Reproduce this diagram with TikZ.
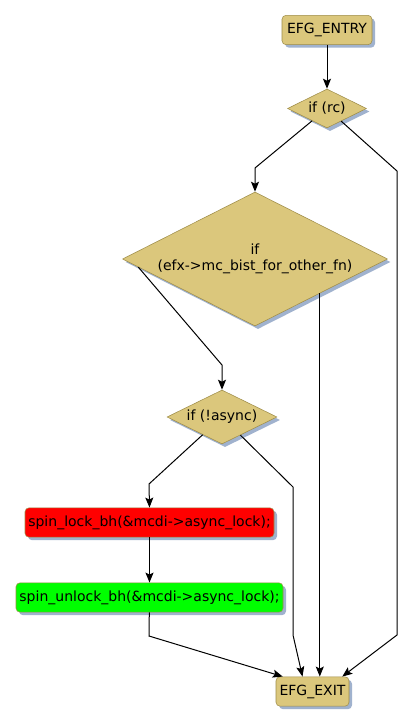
\documentclass[tikz,border=0pt]{standalone}
\usepackage{fontspec}
\setmainfont{DejaVu Sans}
\usetikzlibrary{shapes.geometric,shadows,arrows.meta,calc}
\definecolor{khaki}{RGB}{219,199,124}
\definecolor{khakiline}{RGB}{158,140,72}
\definecolor{shade}{RGB}{160,178,206}
\definecolor{lockred}{RGB}{255,0,0}
\definecolor{unlockgreen}{RGB}{0,255,0}

\begin{document}
\begin{tikzpicture}[x=0.75pt,y=-0.75pt,
  every node/.style={font=\fontsize{10.5}{12}\selectfont},
  box/.style={draw=khakiline,fill=khaki,rounded corners=3pt,minimum height=22pt,inner sep=0pt,
    drop shadow={shadow xshift=2.25pt,shadow yshift=-2.25pt,fill=shade,opacity=1}},
  test/.style={diamond,aspect=2,draw=khakiline,fill=khaki,inner sep=0pt,
    drop shadow={shadow xshift=2.25pt,shadow yshift=-2.25pt,fill=shade,opacity=1}},
  flow/.style={-{Stealth[length=7.5pt,width=6pt,inset=1.5pt]},line width=0.75pt}]

\fill[white] (0,0) rectangle (413,725);

\useasboundingbox (0,0) rectangle (413,725);

\node[box,minimum width=67.5pt] (entry) at (327,30) {EFG\_ENTRY};

\node[test,minimum width=59.25pt,minimum height=29.25pt] (rc) at (327,108.5) {if (rc)};

\node[test,minimum width=198.75pt,minimum height=100.5pt,align=center] (bist) at (255,259) {if\\(efx->mc\_bist\_for\_other\_fn)};

\node[test,minimum width=82.5pt,minimum height=40.5pt] (async) at (222,417) {if (!async)};

\node[box,fill=lockred,minimum width=186.75pt] (lock) at (149.5,522.5) {spin\_lock\_bh(\&mcdi->async\_lock);};

\node[box,fill=unlockgreen,minimum width=200.25pt] (unlock) at (149.5,597.5) {spin\_unlock\_bh(\&mcdi->async\_lock);};

\node[box,minimum width=54.75pt] (exit) at (312.5,691.5) {EFG\_EXIT};

\coordinate (rcl) at (255,168);

\coordinate (rcr) at (397,171);

\coordinate (rcd) at (397,635);

\coordinate (bl) at (222,365);

\coordinate (br) at (bist.332);

\coordinate (al) at (149,484);

\coordinate (ar) at (293,487);

\coordinate (ad) at (293,635);

\coordinate (ud) at (149,636);

\draw[flow] (entry) -- (rc);

\draw[flow] (rc) -- (rcl) -- (bist.north);

\draw[flow] (rc) -- (rcr) -- (rcd) -- ($(exit.north east)+(-7,0)$);

\draw[flow] (bist.184) -- (bl) -- (async.north);

\draw[flow] (br) -- (br |- exit.north);

\draw[flow] (async) -- (al) -- (lock.north);

\draw[flow] (async) -- (ar) -- (ad) -- ($(exit.north)+(-10,0)$);

\draw[flow] (lock) -- (unlock);

\draw[flow] (unlock) -- (ud) -- ($(exit.north west)+(7,0)$);

\end{tikzpicture}
\end{document}
